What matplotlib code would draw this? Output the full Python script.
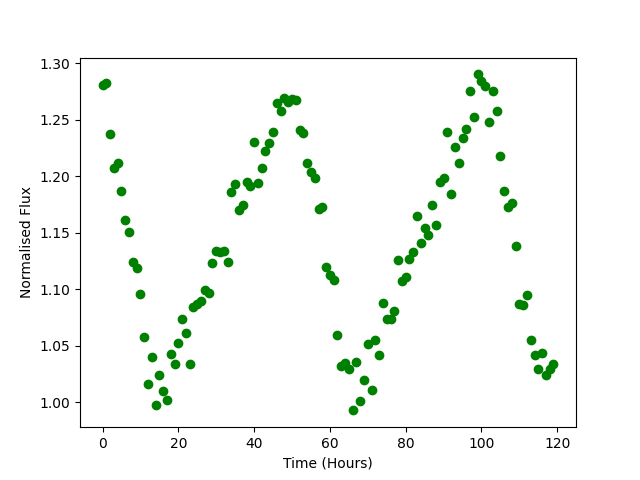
import matplotlib
matplotlib.use("Agg")
import matplotlib.pyplot as plt
import numpy as np

hours = list(range(120))
flux = [1.281, 1.282, 1.237, 1.207, 1.212, 1.187, 1.161, 1.151, 1.124, 1.119,
        1.096, 1.058, 1.016, 1.040, 0.998, 1.024, 1.010, 1.002, 1.043, 1.034,
        1.053, 1.074, 1.061, 1.034, 1.084, 1.087, 1.090, 1.099, 1.097, 1.123,
        1.134, 1.133, 1.134, 1.124, 1.186, 1.193, 1.170, 1.175, 1.195, 1.191,
        1.230, 1.194, 1.207, 1.222, 1.229, 1.239, 1.265, 1.258, 1.269, 1.266,
        1.268, 1.267, 1.241, 1.238, 1.212, 1.204, 1.198, 1.171, 1.173, 1.120,
        1.113, 1.108, 1.060, 1.032, 1.035, 1.030, 0.993, 1.036, 1.001, 1.020,
        1.052, 1.011, 1.055, 1.042, 1.088, 1.074, 1.074, 1.081, 1.126, 1.107,
        1.111, 1.127, 1.133, 1.165, 1.141, 1.154, 1.148, 1.175, 1.157, 1.195,
        1.198, 1.239, 1.184, 1.226, 1.212, 1.234, 1.242, 1.275, 1.252, 1.290,
        1.284, 1.280, 1.248, 1.275, 1.258, 1.218, 1.187, 1.173, 1.176, 1.138,
        1.087, 1.086, 1.095, 1.055, 1.042, 1.030, 1.044, 1.024, 1.030, 1.034]

fig, ax = plt.subplots(figsize=(6.4, 4.8), dpi=100)
ax.plot(hours, flux, 'o', color='green', linestyle='none')
ax.set_xlabel('Time (Hours)')
ax.set_ylabel('Normalised Flux')
fig.savefig('out.png', dpi=100)
